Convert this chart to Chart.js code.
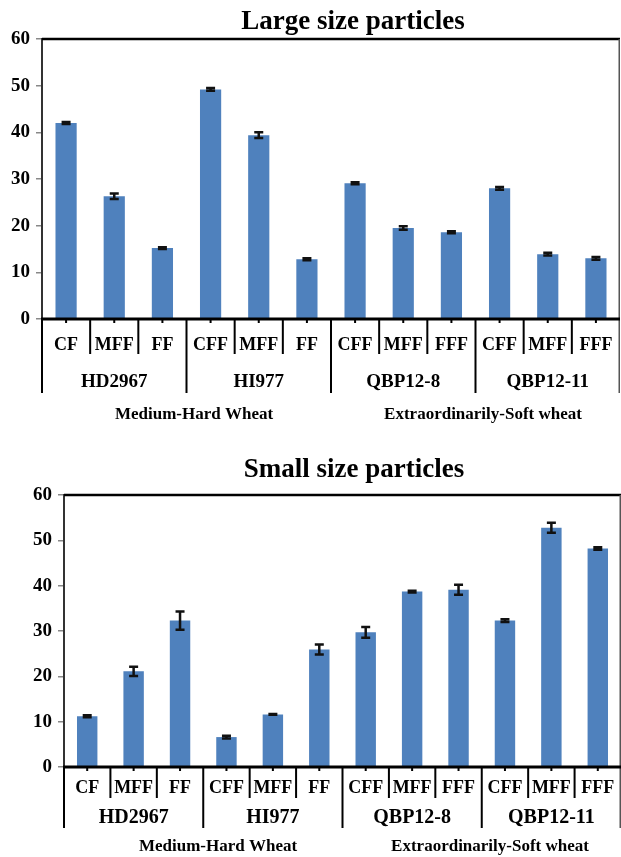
<!DOCTYPE html>
<html>
<head>
<meta charset="utf-8">
<script src="https://cdn.jsdelivr.net/npm/chart.js@4.4.0/dist/chart.umd.min.js"></script>
<style>
  body { margin: 0; background: #fff; }
  .box { position: absolute; left: 0; width: 621px; }
  #topBox { top: 0; height: 430px; }
  #botBox { top: 430px; height: 427px; }
</style>
</head>
<body>
<div class="box" id="topBox"><canvas id="largeChart"></canvas></div>
<div class="box" id="botBox"><canvas id="smallChart"></canvas></div>
<script>
// Data
var fractions = ["CF", "MFF", "FF", "CFF", "MFF", "FF", "CFF", "MFF", "FFF", "CFF", "MFF", "FFF"];
var varieties = ["HD2967", "HI977", "QBP12-8", "QBP12-11"];
var wheatTypes = ["Medium-Hard Wheat", "Extraordinarily-Soft wheat"];
var yTicks = [0, 10, 20, 30, 40, 50, 60];

var largeValues = [42.0, 26.3, 15.2, 49.2, 39.4, 12.8, 29.1, 19.5, 18.6, 28.0, 13.9, 13.0];
var largeErrors = [0.2, 0.6, 0.2, 0.3, 0.6, 0.2, 0.2, 0.4, 0.2, 0.3, 0.3, 0.3];

var smallValues = [11.2, 21.1, 32.3, 6.6, 11.6, 25.9, 29.7, 38.7, 39.1, 32.3, 52.8, 48.2];
var smallErrors = [0.2, 1.0, 2.0, 0.3, 0.1, 1.1, 1.2, 0.2, 1.1, 0.3, 1.1, 0.3];

var serif = "'Liberation Serif', 'Times New Roman', serif";

// Error bars drawn from the y scale
var errorBarPlugin = {
  id: "errorBars",
  afterDatasetsDraw: function (chart, args, opts) {
    var ctx = chart.ctx;
    var y = chart.scales.y;
    var meta = chart.getDatasetMeta(0);
    var values = chart.data.datasets[0].data;
    ctx.save();
    ctx.strokeStyle = "#111";
    ctx.lineWidth = 2.5;
    meta.data.forEach(function (bar, i) {
      var hi = y.getPixelForValue(values[i] + opts.errors[i]);
      var lo = y.getPixelForValue(values[i] - opts.errors[i]);
      ctx.beginPath();
      ctx.moveTo(bar.x, hi);
      ctx.lineTo(bar.x, lo);
      ctx.moveTo(bar.x - 4.5, hi);
      ctx.lineTo(bar.x + 4.5, hi);
      ctx.moveTo(bar.x - 4.5, lo);
      ctx.lineTo(bar.x + 4.5, lo);
      ctx.stroke();
    });
    ctx.restore();
  }
};

// Frame, multi level x labels and title
var framePlugin = {
  id: "frame",
  afterDraw: function (chart, args, o) {
    var ctx = chart.ctx;
    var a = chart.chartArea;
    var x = chart.scales.x;
    var n = fractions.length;
    var half = (x.getPixelForValue(1) - x.getPixelForValue(0)) / 2;
    ctx.save();

    // top and right border
    ctx.strokeStyle = "#000";
    ctx.lineWidth = 2.5;
    ctx.beginPath();
    ctx.moveTo(a.left, a.top);
    ctx.lineTo(a.right, a.top);
    ctx.stroke();
    ctx.strokeStyle = "#555";
    ctx.lineWidth = 1.5;
    ctx.beginPath();
    ctx.moveTo(a.right - 0.75, a.top);
    ctx.lineTo(a.right - 0.75, o.longEnd);
    ctx.stroke();

    // x axis
    ctx.strokeStyle = "#000";
    ctx.lineWidth = 3;
    ctx.beginPath();
    ctx.moveTo(a.left - 1, a.bottom);
    ctx.lineTo(a.right, a.bottom);
    ctx.stroke();

    // separators
    ctx.lineWidth = 2;
    ctx.beginPath();
    ctx.moveTo(a.left, a.bottom);
    ctx.lineTo(a.left, o.longEnd);
    for (var k = 1; k < n; k++) {
      var sx = x.getPixelForValue(k) - half;
      ctx.moveTo(sx, a.bottom);
      ctx.lineTo(sx, k % 3 === 0 ? o.longEnd : o.shortEnd);
    }
    ctx.stroke();

    // small ticks under bars
    ctx.beginPath();
    for (var i = 0; i < n; i++) {
      var cx = x.getPixelForValue(i);
      ctx.moveTo(cx, a.bottom);
      ctx.lineTo(cx, a.bottom + 4);
    }
    ctx.stroke();

    ctx.fillStyle = "#000";
    ctx.textAlign = "center";
    ctx.textBaseline = "middle";

    ctx.font = "bold " + o.catSize + "px " + serif;
    fractions.forEach(function (f, i) {
      ctx.fillText(f, x.getPixelForValue(i), o.catY);
    });

    ctx.font = "bold " + o.groupSize + "px " + serif;
    varieties.forEach(function (v, g) {
      var gx = (x.getPixelForValue(g * 3) + x.getPixelForValue(g * 3 + 2)) / 2;
      ctx.fillText(v, gx, o.groupY);
    });

    ctx.font = "bold " + o.wheatSize + "px " + serif;
    wheatTypes.forEach(function (w, j) {
      ctx.fillText(w, o.wheatX[j], o.wheatY);
    });

    ctx.textBaseline = "alphabetic";
    ctx.font = "bold 27px " + serif;
    ctx.fillText(o.title, o.titleX, o.titleY);
    ctx.restore();
  }
};

function makeChart(id, values, errors, o) {
  return new Chart(document.getElementById(id), {
    type: "bar",
    data: {
      labels: fractions,
      datasets: [
        {
          data: values,
          backgroundColor: "#4F81BD",
          barPercentage: 0.44,
          categoryPercentage: 1,
        },
      ],
    },
    options: {
      responsive: true,
      maintainAspectRatio: false,
      animation: false,
      layout: { padding: { top: o.top, right: o.right, left: 0, bottom: 0 } },
      scales: {
        x: {
          ticks: { display: false },
          grid: { display: false },
          border: { display: false },
          afterFit: function (s) { s.height = o.xh; },
        },
        y: {
          min: 0,
          max: 60,
          afterBuildTicks: function (s) {
            s.ticks = yTicks.map(function (v) { return { value: v }; });
          },
          ticks: {
            color: "#000",
            padding: 6,
            font: { family: serif, weight: "bold", size: 19 },
          },
          grid: { drawOnChartArea: false, tickLength: 6, color: "#888", lineWidth: 1.5 },
          border: { color: "#333", width: 2 },
          afterFit: function (s) { s.width = o.yw; },
        },
      },
      plugins: {
        legend: { display: false },
        tooltip: { enabled: false },
        errorBars: { errors: errors },
        frame: o,
      },
    },
    plugins: [errorBarPlugin, framePlugin],
  });
}

makeChart("largeChart", largeValues, largeErrors, {
  top: 39, right: 1, yw: 42, xh: 111,
  title: "Large size particles", titleX: 353, titleY: 29,
  catY: 345, shortEnd: 354, groupY: 382, longEnd: 393,
  wheatY: 415, wheatX: [194, 483],
  catSize: 18, groupSize: 19, wheatSize: 17,
});

makeChart("smallChart", smallValues, smallErrors, {
  top: 65, right: 0, yw: 64, xh: 90,
  title: "Small size particles", titleX: 354, titleY: 47,
  catY: 358, shortEnd: 368, groupY: 388, longEnd: 398,
  wheatY: 417, wheatX: [218, 490],
  catSize: 18, groupSize: 20, wheatSize: 17,
});
</script>
</body>
</html>
